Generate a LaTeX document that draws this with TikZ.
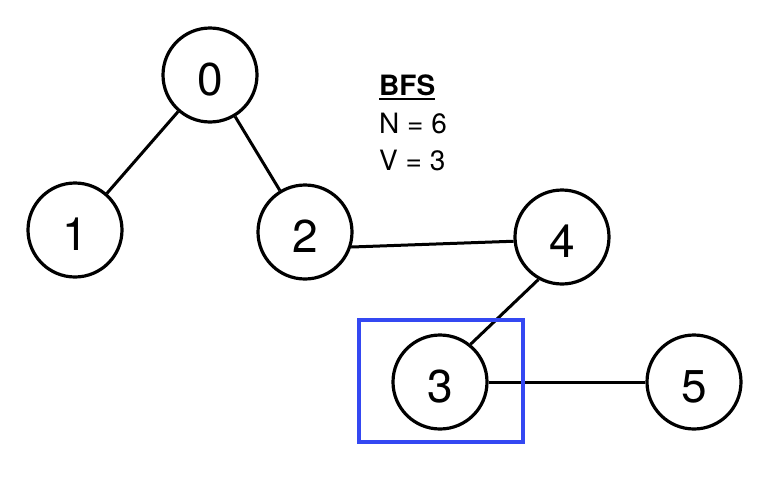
\documentclass[tikz,border=0pt]{standalone}
\usepackage{fontspec}
\setmainfont{TeX Gyre Heros}
\begin{document}
\begin{tikzpicture}[x=1pt,y=-1pt,
  vertex/.style={circle, draw=black, line width=3.2pt, minimum size=94pt, inner sep=0pt,
    font=\fontsize{46}{46}\selectfont, text height=41pt, text depth=0pt},
  edge/.style={draw=black, line width=3pt},
  infotext/.style={anchor=base west, inner sep=0pt, font=\fontsize{28}{28}\selectfont},
  highlight/.style={draw={rgb,255:red,52;green,72;blue,242}, line width=3.4pt}]
  \useasboundingbox (0,0) rectangle (782,490);
  \fill[white] (0,0) rectangle (782,490);

  % vertices
  \node[vertex] (n0) at (210,75) {0};
  \node[vertex] (n1) at (75,230) {1};
  \node[vertex] (n2) at (305,232) {2};
  \node[vertex] (n4) at (562,237) {4};
  \node[vertex] (n3) at (440,382) {3};
  \node[vertex] (n5) at (694,382) {5};

  % edges
  \draw[edge] (n0) -- (n1);
  \draw[edge] (n0) -- (n2);
  \draw[edge] (n2.-18) -- (n4.185);
  \draw[edge] (n4.241) -- (n3.51);
  \draw[edge] (n3.east) -- (n5.west);

  % current vertex marker
  \draw[highlight] (359,320) rectangle (523,442);

  % BFS legend
  \node[infotext, font=\fontsize{28}{28}\selectfont\bfseries] (bfs) at (379,95) {BFS};
  \draw[line width=2.6pt] ([yshift=-4pt]bfs.base west) -- ([yshift=-4pt]bfs.base east);
  \node[infotext] (nval) at (379,133) {N = 6};
  \node[infotext] (vval) at (379,170) {V = 3};
\end{tikzpicture}
\end{document}
